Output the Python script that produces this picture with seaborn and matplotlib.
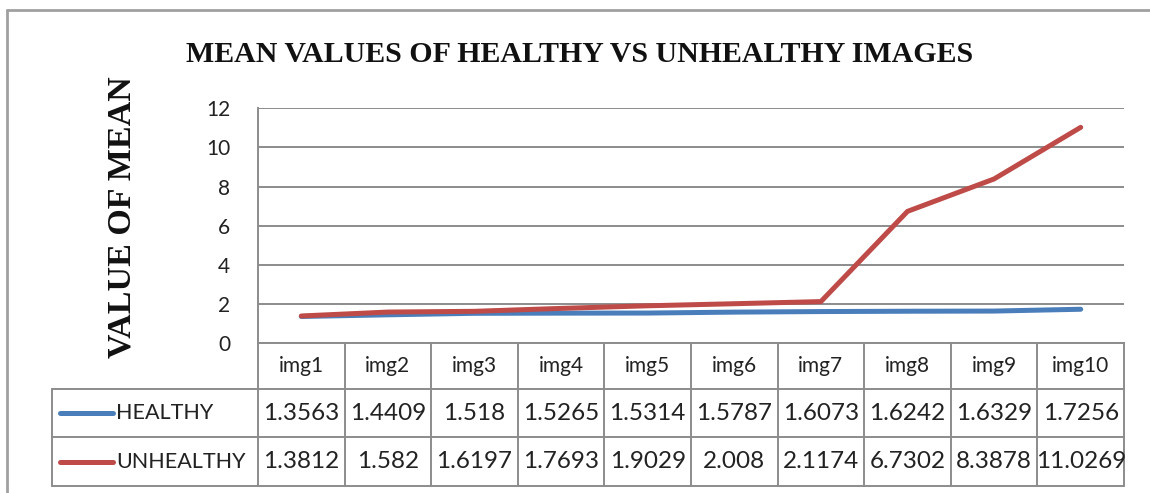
import matplotlib
matplotlib.use("Agg")
import matplotlib.pyplot as plt
import matplotlib.transforms as mtransforms
from matplotlib.lines import Line2D
import pandas as pd
import seaborn as sns

# ---------------- data ----------------
categories = ["img1", "img2", "img3", "img4", "img5", "img6", "img7", "img8", "img9", "img10"]
series_names = ["HEALTHY", "UNHEALTHY"]
healthy = [1.3563, 1.4409, 1.518, 1.5265, 1.5314, 1.5787, 1.6073, 1.6242, 1.6329, 1.7256]
unhealthy = [1.3812, 1.582, 1.6197, 1.7693, 1.9029, 2.008, 2.1174, 6.7302, 8.3878, 11.0269]
y_ticks = [0, 2, 4, 6, 8, 10, 12]
title_text = "MEAN VALUES OF HEALTHY VS UNHEALTHY IMAGES"
ylabel_text = "VALUE OF MEAN"
colors = {"HEALTHY": "#4A7EBB", "UNHEALTHY": "#BE4B48"}

# ---------------- style ----------------
sns.set_style("white")
plt.rcParams["font.family"] = ["Lato", "DejaVu Sans"]

W, H = 1150, 493
fig = plt.figure(figsize=(W / 100, H / 100), dpi=100)
L, R, T, B = 258, 1124, 108.3, 343
ax = fig.add_axes([L / W, 1 - B / H, (R - L) / W, (B - T) / H])

df = pd.DataFrame({
    "image": categories * 2,
    "value": healthy + unhealthy,
    "series": [s for s in series_names for _ in categories],
})
sns.lineplot(data=df, x="image", y="value", hue="series", hue_order=series_names,
             palette=colors, linewidth=3.6, ax=ax, legend=False, sort=False,
             solid_capstyle="round", solid_joinstyle="round")

grid_c = "#8c8c8c"
txt_c = "#222222"
ax.set_xlim(-0.5, len(categories) - 0.5)
ax.set_ylim(0, 12)
ax.set_yticks(y_ticks)
ax.set_yticklabels([str(v) for v in y_ticks], fontsize=15, color=txt_c)
ax.tick_params(axis="y", length=0, pad=20)
ax.set_xticks([])
ax.set_xlabel("")
ax.set_ylabel("")
ax.yaxis.grid(True, color=grid_c, linewidth=1.4)
ax.set_axisbelow(True)
for s in ["top", "right"]:
    ax.spines[s].set_visible(False)
for s in ["left", "bottom"]:
    ax.spines[s].set_color(grid_c)
    ax.spines[s].set_linewidth(1.4)

# ---------------- data table ----------------
trans = mtransforms.blended_transform_factory(ax.transData, ax.transAxes)
ah = B - T
r0 = 0.0
r1 = -(389 - B) / ah
r2 = -(437 - B) / ah
r3 = -(486 - B) / ah
n = len(categories)
x_left = -0.5 + (52 - L) / (R - L) * n

def tline(xs, ys):
    ax.add_line(Line2D(xs, ys, transform=trans, color=grid_c, lw=1.4, clip_on=False))

for yy in (r1, r2, r3):
    tline([x_left, n - 0.5], [yy, yy])
for i in range(n + 1):
    tline([i - 0.5, i - 0.5], [r3, r0])
tline([x_left, x_left], [r3, r1])

for i, c in enumerate(categories):
    ax.text(i, (r0 + r1) / 2, c, transform=trans, ha="center", va="center",
            fontsize=15, color=txt_c, clip_on=False)
for vals, (ya, yb) in ((healthy, (r1, r2)), (unhealthy, (r2, r3))):
    for i, v in enumerate(vals):
        ax.text(i, (ya + yb) / 2, f"{v:g}", transform=trans, ha="center", va="center",
                fontsize=17.5, color=txt_c, clip_on=False)

# legend keys inside the table
for name, (ya, yb) in zip(series_names, ((r1, r2), (r2, r3))):
    yc = (ya + yb) / 2
    x0 = -0.5 + (60 - L) / (R - L) * n
    x1 = -0.5 + (113 - L) / (R - L) * n
    ax.add_line(Line2D([x0, x1], [yc, yc], transform=trans, color=colors[name], lw=3.6,
                       solid_capstyle="round", clip_on=False))
    xt = -0.5 + (116 - L) / (R - L) * n
    ax.text(xt, yc, name, transform=trans, ha="left", va="center", fontsize=15.5,
            color=txt_c, clip_on=False)

# ---------------- titles ----------------
fig.text(580 / W, 1 - 54 / H, title_text, ha="center", va="center", fontsize=21.5,
         fontweight="bold", family=["Liberation Serif"], color="#111111")
fig.text(122 / W, 1 - 217 / H, ylabel_text, ha="center", va="center", rotation=90,
         fontsize=24.5, fontweight="bold", family=["Liberation Serif"], color="#111111")

# ---------------- outer frame ----------------
fc = "#a0a0a0"
fig.add_artist(Line2D([7 / W, 1], [1 - 10 / H, 1 - 10 / H], color=fc, lw=2))
fig.add_artist(Line2D([7 / W, 7 / W], [0, 1 - 10 / H], color=fc, lw=2))

fig.savefig("out.png", dpi=100)
